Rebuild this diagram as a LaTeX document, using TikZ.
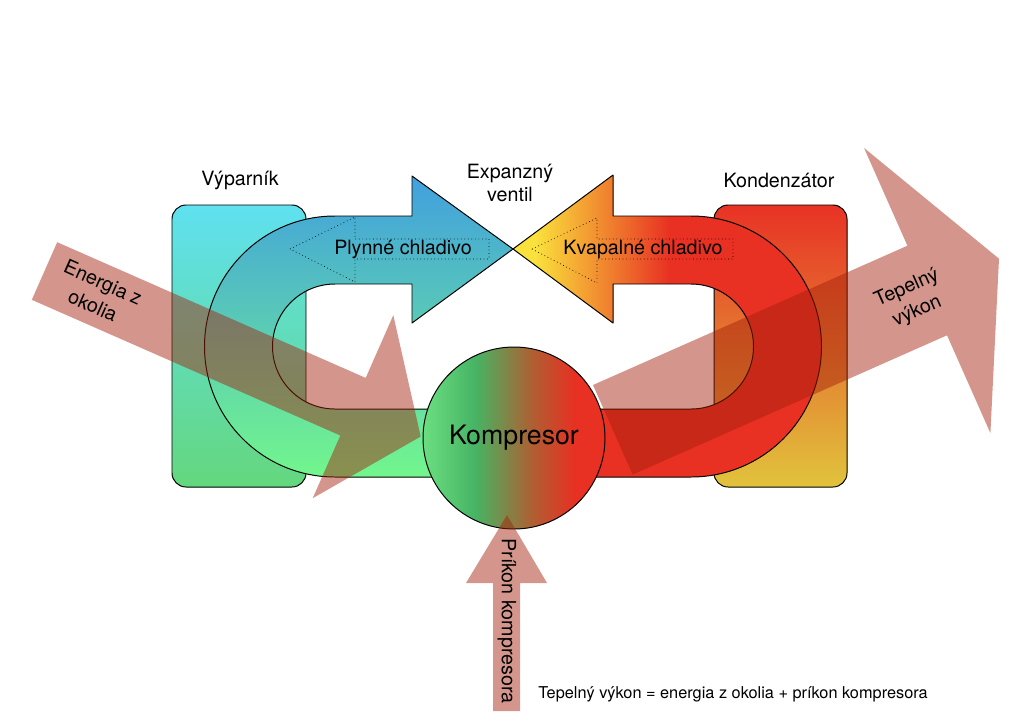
\documentclass[tikz,border=0pt]{standalone}
\usepackage{fontspec}
\setmainfont{TeX Gyre Heros}
\usepackage{tikz}
\usetikzlibrary{calc}
\definecolor{evapTop}{RGB}{95,225,240}
\definecolor{evapBot}{RGB}{100,215,125}
\definecolor{condTop}{RGB}{232,50,37}
\definecolor{condBot}{RGB}{225,195,60}
\definecolor{gasTop}{RGB}{65,160,222}
\definecolor{gasMid}{RGB}{85,200,195}
\definecolor{gasBot}{RGB}{115,246,140}
\definecolor{liqYellow}{RGB}{250,225,60}
\definecolor{liqOrange}{RGB}{242,150,45}
\definecolor{liqRed}{RGB}{232,48,35}
\definecolor{compLight}{RGB}{110,225,130}
\definecolor{compGreen}{RGB}{70,180,100}
\definecolor{compBrown}{RGB}{175,95,50}
\definecolor{heatRed}{RGB}{164,32,10}
\newcommand{\GasPath}{(513,249) -- (412,323) -- (412,284) -- (335,284) arc (270:90:62.5) -- (514,409) -- (514,477) -- (335,477) arc (90:270:130.5) -- (412,216) -- (412,176) -- cycle}
\newcommand{\LiquidPath}{(513,249) -- (613,323) -- (613,284) -- (691,284) arc (-90:90:62.5) -- (514,409) -- (514,477) -- (691,477) arc (90:-90:130.5) -- (613,216) -- (613,175) -- cycle}
\tikzset{
  outline/.style={draw=black, line width=0.7pt},
  hint/.style={draw=black, dotted, line width=0.5pt},
  heatflow/.style={fill=heatRed, fill opacity=0.47},
  lbl/.style={font=\fontsize{14}{17}\selectfont, inner sep=0pt, align=center},
  flowlbl/.style={font=\fontsize{14}{18}\selectfont, inner sep=0pt, align=center},
}
\begin{document}
\begin{tikzpicture}[x=0.025cm, y=-0.025cm, line join=round]
  \useasboundingbox (0,0) rectangle (1024,724);

  \coordinate (C) at (514,438);

  % heat exchangers
  \shadedraw[outline, rounded corners=10pt, top color=evapTop, bottom color=evapBot] (172,205) rectangle (306,487);
  \shadedraw[outline, rounded corners=10pt, top color=condTop, middle color=condTop, bottom color=condBot] (714,205) rectangle (847,487);

  % refrigerant loop
  \shadedraw[outline, top color=gasTop, middle color=gasMid, bottom color=gasBot] \GasPath;
  \begin{scope}
    \clip \LiquidPath;
    \fill[liqYellow] (500,170) rectangle (535,335);
    \shade[left color=liqYellow, middle color=liqOrange, right color=liqRed] (535,170) rectangle (670,335);
    \fill[liqRed] (670,170) rectangle (830,335);
    \fill[liqRed] (500,335) rectangle (830,480);
  \end{scope}
  \draw[outline] \LiquidPath;

  \draw[hint] (290,249) -- (355,217) -- (355,239) -- (489,239) -- (489,259) -- (355,259) -- (355,282) -- cycle;
  \node[lbl] (gas) at (403,249) {Plynné chladivo};
  \draw[hint] (532,249) -- (597,218) -- (597,239) -- (733,239) -- (733,259) -- (597,259) -- (597,283) -- cycle;
  \node[lbl] (liquid) at (643,249) {Kvapalné chladivo};

  % compressor
  \begin{scope}
    \clip (C) circle (91);
    \shade[left color=compLight, right color=compGreen] (420,340) rectangle (475,540);
    \shade[left color=compGreen, right color=compBrown] (475,340) rectangle (532,540);
    \shade[left color=compBrown, right color=liqRed] (532,340) rectangle (575,540);
    \fill[liqRed] (575,340) rectangle (610,540);
  \end{scope}
  \draw[outline] (C) circle (91);
  \node[font=\fontsize{19}{22}\selectfont, inner sep=0pt] (comp) at (C) {Kompresor};

  % energy flows
  \fill[heatflow] (57.2,242.2) -- (365.7,377.9) -- (393.3,315.2) -- (420.7,436.5) -- (312.7,498.2) -- (340.3,435.5) -- (31.8,299.8) -- cycle;
  \fill[heatflow] (593,385) -- (907.4,245.7) -- (864,147.9) -- (999,258.7) -- (990.4,433.1) -- (947,335.3) -- (632.6,474.6) -- cycle;
  \fill[heatflow] (493,711) -- (493,583) -- (466,583) -- (507,515) -- (547,583) -- (520,583) -- (520,711) -- cycle;

  \node[flowlbl, rotate=-24] (ambient) at (98,294) {Energia z\\okolia};
  \node[flowlbl, rotate=24] (heat) at (912,300) {Tepelný\\výkon};
  \node[lbl, rotate=-90] (power) at (507,621) {Príkon kompresora};

  \node[lbl] (evap) at (240,180) {Výparník};
  \node[lbl] (valve) at (510,183) {Expanzný\\ventil};
  \node[lbl] (cond) at (779,180) {Kondenzátor};
  \node[lbl, font=\fontsize{11.6}{14}\selectfont] (balance) at (733,694) {Tepelný výkon = energia z okolia + príkon kompresora};
\end{tikzpicture}
\end{document}
